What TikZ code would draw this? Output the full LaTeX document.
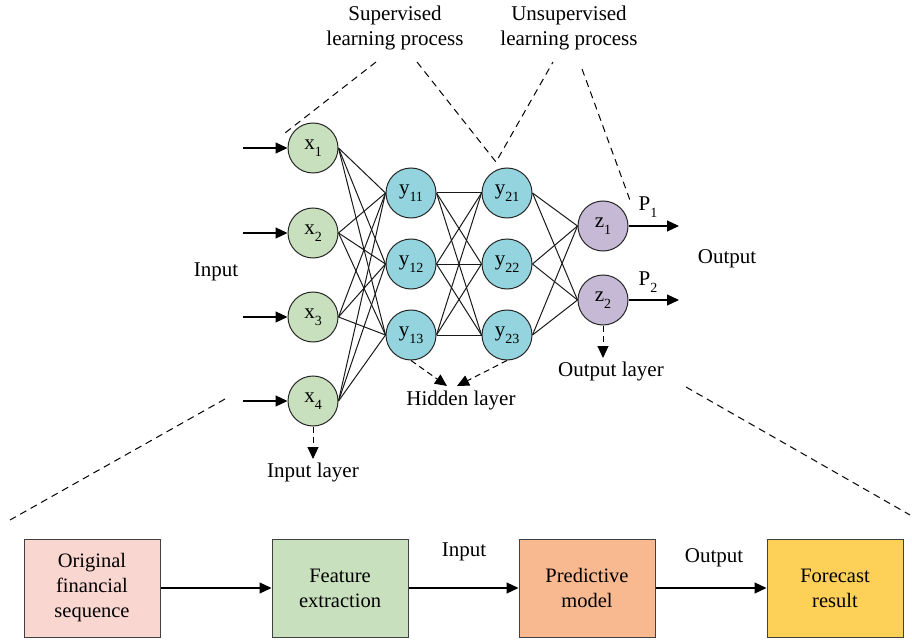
\documentclass[tikz,border=0pt]{standalone}
\usepackage{fontspec}
\setmainfont{Liberation Serif}
\usetikzlibrary{arrows.meta}
\definecolor{cx}{HTML}{C8E0BD}
\definecolor{cy}{HTML}{93D4DF}
\definecolor{cz}{HTML}{C6B9D6}
\definecolor{b1}{HTML}{FAD6D1}
\definecolor{b2}{HTML}{C8E0BD}
\definecolor{b3}{HTML}{F8B890}
\definecolor{b4}{HTML}{FDD058}
\newcommand{\sbx}[1]{\raisebox{-0.32em}{\fontsize{14}{14}\selectfont #1}}
\tikzset{
  neuron/.style={circle,draw=black!85,line width=1pt,minimum size=50pt,inner sep=0pt,font=\fontsize{21}{22}\selectfont},
  lbl/.style={font=\fontsize{21}{25}\selectfont,align=center,inner sep=0pt},
  blk/.style={draw=black!75,line width=1pt,minimum width=136pt,minimum height=98pt,align=center,inner sep=0pt,font=\fontsize{20.5}{25}\selectfont},
  conn/.style={line width=1pt,black!90},
  arr/.style={line width=1.2pt,-{Triangle[length=12pt,width=11pt]}},
  dsh/.style={line width=1pt,dash pattern=on 7pt off 5pt},
  darr/.style={line width=1pt,dash pattern=on 6pt off 4pt,-{Triangle[length=12pt,width=11pt]}}
}
\begin{document}
\begin{tikzpicture}[x=1pt,y=-1pt]
\useasboundingbox (0,0) rectangle (912,644);
% neurons
\node[neuron,fill=cx] (x1) at (313,148) {x\sbx{1}};
\node[neuron,fill=cx] (x2) at (313,233) {x\sbx{2}};
\node[neuron,fill=cx] (x3) at (313,317) {x\sbx{3}};
\node[neuron,fill=cx] (x4) at (313,401) {x\sbx{4}};
\node[neuron,fill=cy] (y11) at (411,193) {y\sbx{11}};
\node[neuron,fill=cy] (y12) at (411,264) {y\sbx{12}};
\node[neuron,fill=cy] (y13) at (411,335) {y\sbx{13}};
\node[neuron,fill=cy] (y21) at (507,193) {y\sbx{21}};
\node[neuron,fill=cy] (y22) at (507,264) {y\sbx{22}};
\node[neuron,fill=cy] (y23) at (507,335) {y\sbx{23}};
\node[neuron,fill=cz] (z1) at (603,226) {z\sbx{1}};
\node[neuron,fill=cz] (z2) at (603,300) {z\sbx{2}};
% connections
\foreach \i in {1,2,3,4}{\foreach \j in {11,12,13}{\draw[conn] (x\i.east) -- (y\j.west);}}
\foreach \i in {11,12,13}{\foreach \j in {21,22,23}{\draw[conn] (y\i.east) -- (y\j.west);}}
\foreach \i in {21,22,23}{\foreach \j in {1,2}{\draw[conn] (y\i.east) -- (z\j.west);}}
% input arrows
\coordinate (in1) at (243,148);
\coordinate (in2) at (243,233);
\coordinate (in3) at (243,317);
\coordinate (in4) at (243,401);
\foreach \i in {1,2,3,4}{\draw[arr] (in\i) -- (x\i.west);}
% output arrows
\coordinate (o1) at (679,226);
\coordinate (o2) at (679,300);
\draw[arr] (z1.east) -- (o1);
\draw[arr] (z2.east) -- (o2);
\node[lbl] (p1) at (648,207) {P\sbx{1}};
\node[lbl] (p2) at (648,282) {P\sbx{2}};
% labels
\node[lbl] (linput) at (216,272) {Input};
\node[lbl] (loutput) at (727,259) {Output};
\node[lbl] (lol) at (611,371) {Output layer};
\node[lbl] (lhl) at (461,400) {Hidden layer};
\node[lbl] (lil) at (313,472) {Input layer};
\node[lbl] (lsup) at (395,28) {Supervised\\learning process};
\node[lbl] (lunsup) at (569,28) {Unsupervised\\learning process};
% dashed layer arrows
\coordinate (hl1) at (447,386);
\coordinate (hl2) at (457,386);
\coordinate (ol) at (603,358);
\coordinate (il) at (313,459);
\draw[darr] (y13.south) -- (hl1);
\draw[darr] (y23.south) -- (hl2);
\draw[darr] (z2.south) -- (ol);
\draw[darr] (x4.south) -- (il);
% dashed guide lines
\coordinate (d1a) at (376,62);
\coordinate (d1b) at (285,133);
\coordinate (d2a) at (417,62);
\coordinate (d2b) at (496,162);
\coordinate (d2c) at (553,62);
\coordinate (d3a) at (582,69);
\coordinate (d3b) at (631,203);
\coordinate (d4a) at (225,399);
\coordinate (d4b) at (10,520);
\coordinate (d5a) at (686,387);
\coordinate (d5b) at (910,515);
\draw[dsh] (d1a) -- (d1b);
\draw[dsh] (d2a) -- (d2b) -- (d2c);
\draw[dsh] (d3a) -- (d3b);
\draw[dsh] (d4a) -- (d4b);
\draw[dsh] (d5a) -- (d5b);
% bottom blocks
\node[blk,fill=b1] (bk1) at (92,588) {Original\\financial\\sequence};
\node[blk,fill=b2] (bk2) at (340,588) {Feature\\extraction};
\node[blk,fill=b3] (bk3) at (587,588) {Predictive\\model};
\node[blk,fill=b4] (bk4) at (835,588) {Forecast\\result};
\draw[arr] (bk1) -- (bk2);
\draw[arr] (bk2) -- (bk3);
\draw[arr] (bk3) -- (bk4);
\node[lbl] (binput) at (464,552) {Input};
\node[lbl] (boutput) at (714,558) {Output};
\end{tikzpicture}
\end{document}
